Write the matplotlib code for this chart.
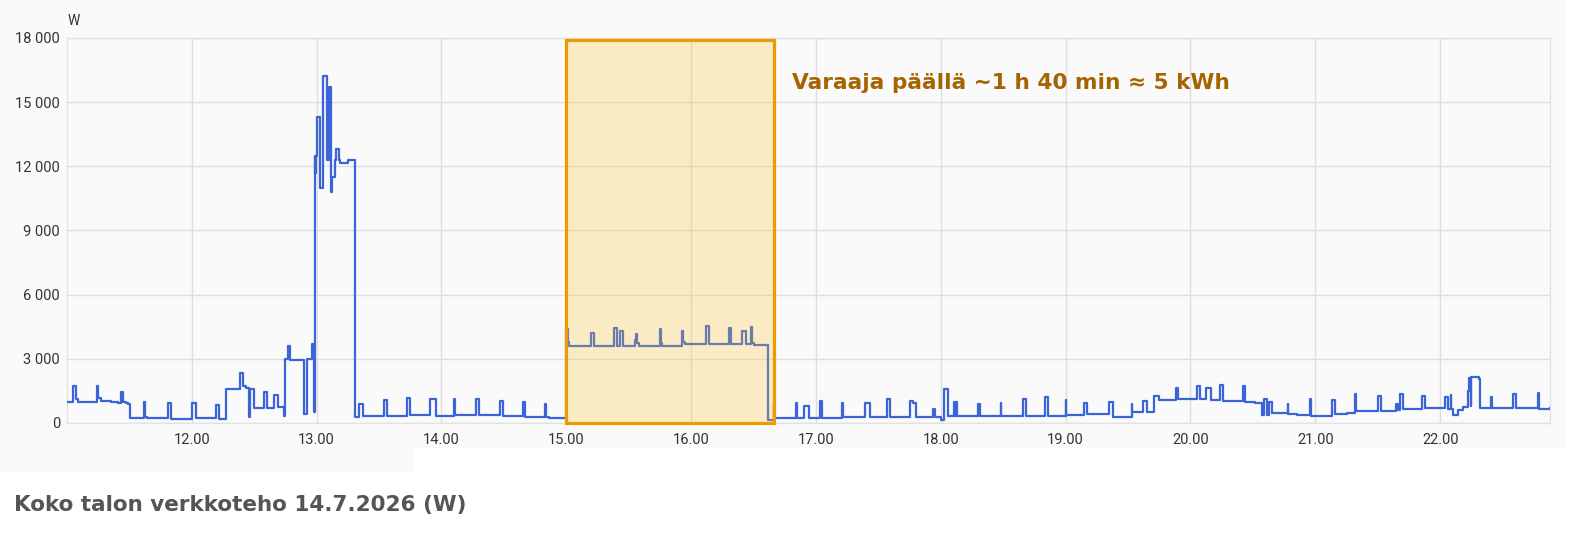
import matplotlib
matplotlib.use("Agg")
import matplotlib.pyplot as plt
from matplotlib.patches import Rectangle
import numpy as np

# ---- data (time in decimal hours, power in W; step changes) ----
t_morning = [11.00, 11.05, 11.07, 11.09, 11.24, 11.25, 11.27, 11.35, 11.41, 11.43, 11.45, 11.47,
             11.49, 11.505, 11.62, 11.625, 11.64, 11.81, 11.835, 12.00, 12.03, 12.19, 12.22,
             12.27, 12.385, 12.41, 12.43, 12.455, 12.465, 12.50, 12.58, 12.60, 12.66, 12.69,
             12.735, 12.745, 12.77, 12.79, 12.895, 12.92, 12.96, 12.975]
w_morning = [1000, 1750, 1100, 1000, 1750, 1150, 1050, 980, 950, 1450, 1000, 950,
             880, 250, 970, 300, 250, 950, 180, 950, 220, 850, 200,
             1600, 2350, 1750, 1650, 300, 1600, 700, 1450, 700, 1300, 750,
             350, 3000, 3600, 2950, 400, 3000, 3700, 500]

t_peak = [12.985, 12.99, 12.995, 13.005, 13.026, 13.05, 13.08, 13.10, 13.118, 13.122,
          13.15, 13.155, 13.18, 13.19, 13.25]
w_peak = [12500, 11700, 12500, 14300, 11000, 16200, 12300, 15700, 10800, 11500,
          12300, 12800, 12300, 12150, 12300]

t_midday = [13.31, 13.34, 13.37, 13.54, 13.56, 13.72, 13.745, 13.91, 13.955, 14.10, 14.105,
            14.28, 14.30, 14.47, 14.49, 14.65, 14.67, 14.83, 14.835, 14.86]
w_midday = [300, 900, 330, 1090, 350, 1150, 360, 1100, 350, 1100, 380,
            1100, 370, 1050, 330, 980, 300, 870, 260, 220]

t_heater = [15.00, 15.01, 15.02, 15.20, 15.22, 15.385, 15.405, 15.43, 15.455, 15.55, 15.56,
            15.57, 15.58, 15.75, 15.755, 15.77, 15.93, 15.935, 15.95, 16.12, 16.14, 16.30,
            16.32, 16.41, 16.44, 16.48, 16.485, 16.50]
w_heater = [4400, 3800, 3600, 4200, 3600, 4420, 3620, 4310, 3620, 3900, 4150,
            3750, 3620, 4400, 3750, 3620, 4300, 3800, 3700, 4550, 3700, 4420,
            3680, 4300, 3680, 4500, 3750, 3650]

t_afternoon = [16.616, 16.66, 16.665, 16.84, 16.845, 16.90, 16.94, 17.03, 17.045, 17.21, 17.215,
               17.39, 17.43, 17.57, 17.595, 17.755, 17.78, 17.80, 17.935, 17.95, 18.00,
               18.027, 18.06, 18.105, 18.115, 18.12, 18.13, 18.30, 18.31, 18.48, 18.485,
               18.66, 18.68, 18.835, 18.86]
w_afternoon = [150, 950, 250, 950, 250, 800, 250, 1050, 250, 950, 270,
               950, 280, 1100, 280, 1050, 950, 280, 650, 280, 150,
               1600, 350, 1000, 350, 1000, 350, 900, 330, 950, 330,
               1100, 330, 1200, 330]

t_evening = [19.00, 19.005, 19.145, 19.17, 19.35, 19.38, 19.53, 19.535, 19.62, 19.65, 19.71,
             19.745, 19.885, 19.90, 20.055, 20.075, 20.127, 20.166, 20.237, 20.26, 20.417,
             20.44, 20.52, 20.575, 20.59, 20.61, 20.63, 20.655, 20.78, 20.785, 20.85, 20.96,
             20.965, 21.135, 21.16, 21.25, 21.32, 21.325, 21.50, 21.525, 21.65, 21.66, 21.68,
             21.70, 21.855, 21.88, 22.04, 22.06, 22.083, 22.088, 22.105, 22.145, 22.18,
             22.225, 22.235, 22.245, 22.25, 22.315, 22.32, 22.41, 22.415, 22.585, 22.61,
             22.78, 22.795, 22.88]
w_evening = [1070, 380, 950, 400, 970, 300, 880, 530, 1030, 530, 1250,
             1070, 1630, 1100, 1750, 1100, 1640, 1080, 1800, 1050, 1720,
             1000, 930, 380, 1100, 380, 1000, 450, 910, 420, 380, 1100,
             330, 1070, 400, 480, 1370, 560, 1260, 570, 900, 600, 1340,
             650, 1250, 680, 1200, 650, 1300, 650, 380, 600, 750,
             1500, 2100, 800, 2130, 2050, 700, 1200, 720, 1340, 720,
             1380, 650, 700]

heater_on = (15.0, 16.0 + 40 / 60)   # 15.00 - 16.40
annotation = "Varaaja päällä ~1 h 40 min ≈ 5 kWh"
title = "Koko talon verkkoteho 14.7.2026 (W)"

x_ticks = [12, 13, 14, 15, 16, 17, 18, 19, 20, 21, 22]
x_tick_labels = ["12.00", "13.00", "14.00", "15.00", "16.00", "17.00",
                 "18.00", "19.00", "20.00", "21.00", "22.00"]
y_ticks = [0, 3000, 6000, 9000, 12000, 15000, 18000]
y_tick_labels = ["0", "3 000", "6 000", "9 000", "12 000", "15 000", "18 000"]

t = np.array(t_morning + t_peak + t_midday + t_heater + t_afternoon + t_evening)
w = np.array(w_morning + w_peak + w_midday + w_heater + w_afternoon + w_evening)

# ---- figure ----
W_PX, H_PX = 1590, 539
fig = plt.figure(figsize=(W_PX / 100, H_PX / 100), dpi=100)
fig.patch.set_facecolor("white")

bg = "#fafafa"
fig.patches.append(Rectangle((0, 1 - 448 / H_PX), 1565 / W_PX, 448 / H_PX,
                             transform=fig.transFigure, facecolor=bg, edgecolor="none", zorder=-10))
fig.patches.append(Rectangle((0, 1 - 472 / H_PX), 414 / W_PX, 24.5 / H_PX,
                             transform=fig.transFigure, facecolor=bg, edgecolor="none", zorder=-10))

ax = fig.add_axes([67 / W_PX, 116 / H_PX, (1550 - 67) / W_PX, (423 - 38) / H_PX])
ax.set_facecolor(bg)

ax.plot(t, w, drawstyle="steps-post", color="#3a64d8", lw=1.6, zorder=3)

ax.set_xlim(11.0, 22.88)
ax.set_ylim(0, 18000)
ax.set_xticks(x_ticks)
ax.set_xticklabels(x_tick_labels)
ax.set_yticks(y_ticks)
ax.set_yticklabels(y_tick_labels)
for lab in ax.get_xticklabels() + ax.get_yticklabels():
    lab.set_fontfamily("Roboto")
    lab.set_fontsize(10.5)
    lab.set_color("#333333")
ax.tick_params(axis="both", length=0)
ax.tick_params(axis="y", pad=5)
ax.tick_params(axis="x", pad=7)
ax.grid(True, color="#dedede", lw=1.0, zorder=0)
ax.set_axisbelow(True)
for s in ax.spines.values():
    s.set_color("#e2e2e2")
    s.set_linewidth(1.0)

# heater highlight
ax.add_patch(Rectangle((heater_on[0], 0), heater_on[1] - heater_on[0], 17900,
                       facecolor="#ffc02a", alpha=0.25, edgecolor="none", zorder=4))
ax.add_patch(Rectangle((heater_on[0], 0), heater_on[1] - heater_on[0], 17900,
                       facecolor="none", edgecolor="#ef9a00", lw=2.3, zorder=5, clip_on=False))

ax.text(16.81, 15900, annotation, ha="left", va="center", fontsize=15.6,
        fontweight="bold", color="#a66400", family="DejaVu Sans", zorder=6)

fig.text(68 / W_PX, 1 - 21 / H_PX, "W", ha="left", va="center", fontsize=10,
         color="#333333", family="Roboto")
fig.text(14 / W_PX, 1 - 505 / H_PX, title, ha="left", va="center", fontsize=15.5,
         fontweight="bold", color="#555555", family="DejaVu Sans")

fig.savefig("out.png", dpi=100, facecolor=fig.get_facecolor())
